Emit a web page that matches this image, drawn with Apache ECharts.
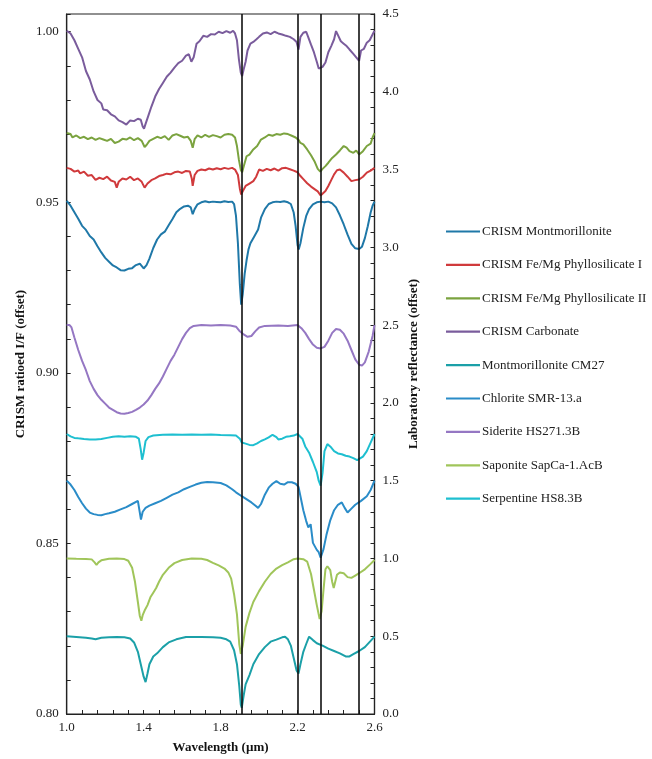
<!DOCTYPE html>
<html>
<head>
<meta charset="utf-8">
<script src="https://cdn.jsdelivr.net/npm/echarts@6/dist/echarts.min.js"></script>
<style>
html,body{margin:0;padding:0;background:#fff;}
#chart{width:652px;height:759px;}
</style>
</head>
<body>
<div id="chart"></div>
<script>
// ---- Axis tick labels ----
const xTicks = [1.0, 1.4, 1.8, 2.2, 2.6];
const leftTicks = [0.80, 0.85, 0.90, 0.95, 1.00];
const rightTicks = [0.0, 0.5, 1.0, 1.5, 2.0, 2.5, 3.0, 3.5, 4.0, 4.5];
const absorptionLines = [1.91, 2.2, 2.32, 2.52];

const seriesNames = [
  'CRISM Montmorillonite', 'CRISM Fe/Mg Phyllosilicate I', 'CRISM Fe/Mg Phyllosilicate II',
  'CRISM Carbonate', 'Montmorillonite CM27', 'Chlorite SMR-13.a', 'Siderite HS271.3B',
  'Saponite SapCa-1.AcB', 'Serpentine HS8.3B'
];

// ---- CRISM spectra (left axis) ----
const cMontWl = [1.00,1.02,1.04,1.06,1.08,1.10,1.12,1.14,1.16,1.18,1.20,1.22,1.24,1.26,1.28,1.30,1.32,1.34,1.36,1.38,1.39,1.40,1.407,1.415,1.43,1.45,1.47,1.49,1.51,1.53,1.55,1.57,1.59,1.61,1.63,1.645,1.655,1.665,1.68,1.70,1.72,1.74,1.76,1.78,1.80,1.82,1.84,1.86,1.87,1.88,1.89,1.90,1.907,1.915,1.925,1.935,1.945,1.955,1.965,1.975,1.985,1.995,2.01,2.03,2.05,2.07,2.09,2.11,2.13,2.15,2.165,2.18,2.19,2.20,2.206,2.215,2.23,2.245,2.26,2.28,2.30,2.32,2.34,2.36,2.38,2.40,2.42,2.44,2.46,2.48,2.50,2.52,2.535,2.55,2.565,2.58,2.59,2.60];
const cMontVal = [0.9504,0.9490,0.9471,0.9452,0.9431,0.9419,0.9401,0.9391,0.9371,0.9353,0.9337,0.9326,0.9315,0.9309,0.9301,0.9300,0.9305,0.9307,0.9316,0.9320,0.9318,0.9306,0.9303,0.9316,0.9335,0.9366,0.9391,0.9406,0.9414,0.9433,0.9451,0.9471,0.9481,0.9488,0.9490,0.9485,0.9465,0.9480,0.9494,0.9500,0.9503,0.9500,0.9502,0.9501,0.9500,0.9503,0.9501,0.9502,0.9495,0.9460,0.9380,0.9260,0.9200,0.9230,0.9290,0.9330,0.9362,0.9380,0.9376,0.9400,0.9405,0.9420,0.9455,0.9480,0.9495,0.9500,0.9502,0.9501,0.9503,0.9500,0.9495,0.9470,0.9430,0.9375,0.9362,0.9380,0.9425,0.9460,0.9480,0.9494,0.9500,0.9502,0.9500,0.9502,0.9497,0.9485,0.9462,0.9435,0.9405,0.9378,0.9365,0.9363,0.9370,0.9395,0.9430,0.9470,0.9490,0.9502];

const cFe1Wl = [1.00,1.02,1.04,1.06,1.07,1.09,1.11,1.13,1.15,1.17,1.19,1.21,1.23,1.25,1.26,1.27,1.29,1.31,1.33,1.35,1.37,1.39,1.405,1.42,1.44,1.46,1.48,1.50,1.52,1.54,1.56,1.58,1.60,1.62,1.64,1.65,1.655,1.665,1.68,1.70,1.72,1.74,1.76,1.78,1.80,1.82,1.84,1.86,1.875,1.89,1.90,1.907,1.915,1.93,1.95,1.97,1.985,2.00,2.02,2.04,2.06,2.08,2.10,2.12,2.14,2.16,2.18,2.20,2.215,2.23,2.25,2.27,2.29,2.305,2.32,2.33,2.345,2.36,2.375,2.39,2.405,2.42,2.44,2.46,2.48,2.50,2.52,2.54,2.56,2.58,2.60];
const cFe1Val = [0.9601,0.9598,0.9590,0.9593,0.9585,0.9590,0.9578,0.9580,0.9566,0.9572,0.9568,0.9575,0.9564,0.9560,0.9543,0.9560,0.9570,0.9567,0.9575,0.9565,0.9570,0.9560,0.9543,0.9555,0.9565,0.9570,0.9577,0.9580,0.9584,0.9582,0.9588,0.9590,0.9586,0.9592,0.9590,0.9570,0.9548,0.9580,0.9592,0.9596,0.9594,0.9599,0.9596,0.9600,0.9597,0.9601,0.9598,0.9601,0.9596,0.9580,0.9540,0.9523,0.9532,0.9548,0.9555,0.9562,0.9575,0.9596,0.9592,0.9598,0.9594,0.9599,0.9593,0.9600,0.9601,0.9597,0.9593,0.9588,0.9577,0.9568,0.9556,0.9546,0.9538,0.9532,0.9520,0.9525,0.9533,0.9548,0.9565,0.9582,0.9594,0.9596,0.9587,0.9575,0.9562,0.9565,0.9567,0.9575,0.9587,0.9593,0.9601];

const cFe2Wl = [1.00,1.02,1.03,1.05,1.07,1.09,1.11,1.13,1.15,1.17,1.19,1.21,1.23,1.25,1.27,1.29,1.31,1.33,1.35,1.37,1.39,1.405,1.415,1.43,1.45,1.47,1.49,1.51,1.53,1.55,1.57,1.59,1.61,1.63,1.645,1.655,1.665,1.68,1.70,1.72,1.74,1.76,1.78,1.80,1.82,1.84,1.86,1.875,1.885,1.895,1.905,1.912,1.92,1.935,1.95,1.97,1.99,2.01,2.03,2.05,2.07,2.09,2.11,2.13,2.15,2.17,2.19,2.205,2.215,2.23,2.25,2.27,2.29,2.305,2.318,2.33,2.345,2.36,2.38,2.40,2.42,2.44,2.455,2.47,2.49,2.505,2.52,2.54,2.56,2.58,2.59,2.60];
const cFe2Val = [0.9703,0.9700,0.9690,0.9696,0.9688,0.9692,0.9685,0.9690,0.9683,0.9688,0.9684,0.9680,0.9686,0.9674,0.9678,0.9686,0.9684,0.9690,0.9682,0.9688,0.9680,0.9662,0.9668,0.9680,0.9686,0.9692,0.9688,0.9694,0.9683,0.9696,0.9700,0.9695,0.9690,0.9692,0.9680,0.9660,0.9685,0.9696,0.9690,0.9698,0.9692,0.9697,0.9694,0.9690,0.9698,0.9700,0.9698,0.9690,0.9665,0.9625,0.9595,0.9588,0.9605,0.9635,0.9640,0.9655,0.9665,0.9684,0.9690,0.9698,0.9695,0.9700,0.9698,0.9702,0.9700,0.9695,0.9690,0.9683,0.9674,0.9670,0.9655,0.9638,0.9618,0.9598,0.9590,0.9598,0.9606,0.9616,0.9630,0.9640,0.9652,0.9665,0.9660,0.9650,0.9645,0.9652,0.9640,0.9650,0.9665,0.9672,0.9690,0.9703];

const cCarbWl = [1.00,1.02,1.04,1.06,1.08,1.10,1.12,1.14,1.16,1.18,1.19,1.21,1.23,1.25,1.27,1.29,1.31,1.33,1.35,1.37,1.385,1.395,1.402,1.41,1.425,1.44,1.46,1.48,1.50,1.52,1.54,1.56,1.58,1.60,1.62,1.635,1.648,1.66,1.675,1.69,1.71,1.73,1.75,1.77,1.79,1.81,1.83,1.85,1.865,1.875,1.885,1.895,1.905,1.912,1.92,1.93,1.94,1.955,1.97,1.985,2.00,2.02,2.04,2.06,2.08,2.10,2.12,2.14,2.16,2.18,2.195,2.205,2.215,2.23,2.245,2.255,2.27,2.285,2.30,2.31,2.32,2.33,2.345,2.36,2.375,2.39,2.40,2.41,2.425,2.44,2.455,2.47,2.49,2.505,2.52,2.53,2.545,2.56,2.575,2.59,2.60];
const cCarbVal = [1.0003,0.9995,0.9975,0.9950,0.9925,0.9885,0.9860,0.9825,0.9800,0.9790,0.9772,0.9770,0.9758,0.9752,0.9740,0.9735,0.9728,0.9740,0.9738,0.9745,0.9742,0.9722,0.9716,0.9730,0.9755,0.9780,0.9810,0.9832,0.9850,0.9868,0.9880,0.9895,0.9908,0.9915,0.9930,0.9934,0.9912,0.9925,0.9965,0.9972,0.9988,0.9985,0.9993,0.9992,1.0000,0.9996,1.0002,0.9997,1.0003,0.9995,0.9975,0.9920,0.9880,0.9870,0.9890,0.9912,0.9945,0.9965,0.9970,0.9977,0.9985,0.9995,0.9998,0.9993,1.0000,0.9995,0.9992,0.9988,0.9985,0.9978,0.9970,0.9948,0.9985,0.9997,1.0000,0.9985,0.9962,0.9940,0.9912,0.9892,0.9888,0.9897,0.9910,0.9940,0.9958,0.9978,1.0002,0.9990,0.9972,0.9965,0.9958,0.9948,0.9935,0.9925,0.9915,0.9945,0.9950,0.9968,0.9975,0.9992,1.0003];

// ---- Laboratory spectra (right axis) ----
const labMontWl = [1.00,1.05,1.10,1.13,1.15,1.18,1.22,1.26,1.30,1.33,1.35,1.37,1.385,1.40,1.41,1.42,1.43,1.45,1.47,1.50,1.53,1.57,1.62,1.70,1.76,1.80,1.83,1.85,1.87,1.885,1.897,1.905,1.91,1.92,1.93,1.95,1.97,2.00,2.03,2.06,2.09,2.12,2.135,2.15,2.165,2.18,2.195,2.205,2.215,2.23,2.245,2.26,2.28,2.30,2.33,2.36,2.39,2.42,2.45,2.47,2.49,2.52,2.55,2.58,2.60];
const labMontVal = [0.50,0.495,0.49,0.485,0.48,0.49,0.493,0.495,0.493,0.485,0.46,0.40,0.32,0.24,0.205,0.26,0.32,0.37,0.39,0.43,0.46,0.48,0.495,0.495,0.493,0.49,0.48,0.465,0.41,0.32,0.18,0.06,0.04,0.12,0.19,0.25,0.32,0.385,0.43,0.465,0.478,0.493,0.497,0.48,0.44,0.36,0.28,0.26,0.32,0.40,0.45,0.497,0.475,0.455,0.44,0.42,0.405,0.39,0.37,0.37,0.385,0.405,0.43,0.47,0.497];

const chlorWl = [1.00,1.02,1.04,1.06,1.08,1.10,1.12,1.14,1.16,1.18,1.20,1.22,1.25,1.28,1.31,1.34,1.37,1.38,1.386,1.395,1.41,1.43,1.46,1.49,1.52,1.55,1.58,1.61,1.64,1.67,1.70,1.73,1.76,1.80,1.83,1.86,1.88,1.91,1.93,1.96,1.98,1.995,2.01,2.03,2.05,2.07,2.09,2.11,2.13,2.15,2.17,2.19,2.205,2.215,2.23,2.245,2.256,2.268,2.28,2.30,2.31,2.32,2.335,2.35,2.37,2.39,2.41,2.43,2.445,2.46,2.48,2.50,2.53,2.56,2.58,2.60];
const chlorVal = [1.50,1.475,1.44,1.395,1.355,1.32,1.295,1.285,1.28,1.278,1.285,1.29,1.30,1.315,1.33,1.35,1.37,1.36,1.25,1.30,1.325,1.34,1.355,1.37,1.39,1.41,1.425,1.445,1.46,1.475,1.487,1.492,1.49,1.485,1.47,1.445,1.425,1.40,1.385,1.36,1.34,1.325,1.35,1.41,1.455,1.48,1.497,1.48,1.475,1.49,1.49,1.48,1.46,1.40,1.31,1.24,1.20,1.22,1.10,1.055,1.04,1.005,1.06,1.15,1.245,1.31,1.345,1.36,1.325,1.295,1.32,1.345,1.37,1.40,1.44,1.50];

const sidWl = [1.00,1.015,1.025,1.04,1.06,1.08,1.10,1.12,1.14,1.16,1.18,1.20,1.22,1.24,1.26,1.28,1.30,1.32,1.34,1.36,1.38,1.40,1.42,1.44,1.46,1.48,1.50,1.52,1.54,1.56,1.58,1.60,1.62,1.64,1.66,1.70,1.75,1.80,1.85,1.88,1.90,1.92,1.94,1.96,1.98,2.00,2.03,2.10,2.15,2.20,2.22,2.24,2.26,2.28,2.30,2.32,2.34,2.36,2.38,2.40,2.42,2.44,2.46,2.48,2.50,2.52,2.535,2.55,2.57,2.59,2.60];
const sidVal = [2.50,2.50,2.485,2.42,2.34,2.27,2.21,2.14,2.09,2.05,2.02,1.995,1.97,1.955,1.94,1.932,1.930,1.935,1.942,1.955,1.97,1.99,2.015,2.05,2.09,2.125,2.17,2.22,2.27,2.31,2.36,2.41,2.45,2.48,2.495,2.50,2.497,2.50,2.497,2.49,2.46,2.44,2.425,2.43,2.46,2.485,2.495,2.497,2.495,2.50,2.48,2.45,2.41,2.375,2.355,2.35,2.36,2.40,2.45,2.475,2.47,2.445,2.40,2.34,2.28,2.245,2.24,2.26,2.33,2.43,2.50];

const sapWl = [1.00,1.05,1.10,1.13,1.145,1.155,1.165,1.18,1.22,1.26,1.30,1.32,1.34,1.355,1.37,1.38,1.388,1.395,1.405,1.42,1.435,1.45,1.465,1.48,1.50,1.53,1.56,1.60,1.65,1.70,1.73,1.76,1.79,1.82,1.84,1.855,1.87,1.885,1.897,1.905,1.915,1.93,1.95,1.97,2.00,2.03,2.06,2.09,2.12,2.15,2.18,2.20,2.23,2.25,2.27,2.285,2.30,2.315,2.325,2.335,2.345,2.355,2.37,2.38,2.388,2.395,2.405,2.42,2.44,2.46,2.48,2.50,2.52,2.55,2.58,2.60];
const sapVal = [1.00,0.998,0.997,0.994,0.975,0.958,0.975,0.988,0.998,1.00,0.996,0.985,0.94,0.85,0.72,0.63,0.60,0.635,0.665,0.70,0.75,0.78,0.81,0.85,0.895,0.94,0.97,0.99,1.00,0.998,0.99,0.972,0.955,0.935,0.91,0.87,0.77,0.64,0.45,0.386,0.44,0.56,0.65,0.72,0.79,0.85,0.90,0.935,0.957,0.975,0.995,1.00,0.995,0.98,0.90,0.80,0.70,0.61,0.66,0.80,0.93,0.95,0.925,0.85,0.81,0.845,0.895,0.91,0.905,0.88,0.875,0.89,0.905,0.93,0.965,0.99];

const serpWl = [1.00,1.02,1.04,1.06,1.09,1.12,1.15,1.18,1.21,1.24,1.27,1.30,1.33,1.36,1.375,1.385,1.392,1.40,1.41,1.425,1.45,1.50,1.55,1.60,1.65,1.70,1.75,1.80,1.85,1.88,1.90,1.91,1.93,1.95,1.97,1.99,2.01,2.03,2.05,2.07,2.09,2.10,2.12,2.14,2.16,2.18,2.20,2.21,2.225,2.24,2.26,2.28,2.30,2.31,2.32,2.33,2.34,2.355,2.37,2.39,2.41,2.43,2.45,2.47,2.49,2.51,2.52,2.54,2.56,2.58,2.60];
const serpVal = [1.80,1.785,1.775,1.772,1.768,1.765,1.765,1.768,1.775,1.782,1.785,1.782,1.785,1.782,1.77,1.70,1.635,1.68,1.755,1.78,1.79,1.795,1.797,1.795,1.797,1.795,1.797,1.793,1.792,1.79,1.77,1.745,1.738,1.73,1.728,1.74,1.755,1.765,1.778,1.795,1.78,1.765,1.77,1.782,1.785,1.79,1.80,1.805,1.77,1.72,1.68,1.62,1.555,1.50,1.468,1.55,1.69,1.735,1.72,1.69,1.675,1.67,1.66,1.655,1.645,1.632,1.628,1.655,1.69,1.745,1.80];

const zip = (xs, ys) => xs.map((x, i) => [x, ys[i]]);

const colors = ['#1f78a8', '#d03a3c', '#7ba33f', '#7a5c9c', '#1ba0a8', '#2a8cc8', '#9577c3', '#a0c55a', '#1ebfd0'];
const datasets = [
  [cMontWl, cMontVal, 0], [cFe1Wl, cFe1Val, 0], [cFe2Wl, cFe2Val, 0], [cCarbWl, cCarbVal, 0],
  [labMontWl, labMontVal, 1], [chlorWl, chlorVal, 1], [sidWl, sidVal, 1], [sapWl, sapVal, 1], [serpWl, serpVal, 1]
];

const font = 'Liberation Serif, Times New Roman, serif';

const series = datasets.map((d, i) => ({
  name: seriesNames[i],
  type: 'line',
  yAxisIndex: d[2],
  data: zip(d[0], d[1]),
  symbol: 'none',
  smooth: false,
  z: 3,
  lineStyle: { color: colors[i], width: 2 },
  itemStyle: { color: colors[i] }
}));

series.push({
  name: 'lines',
  type: 'line',
  data: [],
  z: 2,
  silent: true,
  markLine: {
    silent: true,
    symbol: 'none',
    label: { show: false },
    lineStyle: { color: '#111', width: 1.6, type: 'solid' },
    data: absorptionLines.map(v => ({ xAxis: v }))
  }
});

const chart = echarts.init(document.getElementById('chart'), null, { renderer: 'canvas' });
chart.setOption({
  animation: false,
  backgroundColor: '#fff',
  textStyle: { fontFamily: font },
  grid: { left: 66.7, right: 277.5, top: 14, bottom: 42, show: true, borderColor: '#222', borderWidth: 1.2, containLabel: false },
  legend: {
    orient: 'vertical',
    left: 441,
    top: 220,
    icon: 'rect',
    itemWidth: 34,
    itemHeight: 2.2,
    itemGap: 20.4,
    data: seriesNames,
    textStyle: { fontFamily: font, fontSize: 13, color: '#222', padding: [0, 0, 0, -3] }
  },
  xAxis: {
    type: 'value',
    min: 1.0,
    max: 2.6,
    interval: 0.4,
    name: 'Wavelength (\u00b5m)',
    nameLocation: 'middle',
    nameGap: 27,
    nameTextStyle: { fontFamily: font, fontSize: 13, fontWeight: 'bold', color: '#111' },
    axisLine: { show: true, lineStyle: { color: '#222', width: 1.2 } },
    axisTick: { show: true, inside: true, length: 4, lineStyle: { color: '#222' } },
    minorTick: { show: true, splitNumber: 5, length: 4, lineStyle: { color: '#222' } },
    splitLine: { show: false },
    axisLabel: { fontFamily: font, fontSize: 13, color: '#222', margin: 7, formatter: v => v.toFixed(1) }
  },
  yAxis: [
    {
      type: 'value',
      position: 'left',
      min: 0.8,
      max: 1.0052,
      interval: 0.05,
      name: 'CRISM ratioed I/F (offset)',
      nameLocation: 'middle',
      nameRotate: 90,
      nameGap: 40,
      nameTextStyle: { fontFamily: font, fontSize: 13, fontWeight: 'bold', color: '#111' },
      axisLine: { show: true, lineStyle: { color: '#222', width: 1.2 } },
      axisTick: { show: true, inside: true, length: 4, lineStyle: { color: '#222' } },
      minorTick: { show: true, splitNumber: 5, length: 4, lineStyle: { color: '#222' } },
      splitLine: { show: false },
      axisLabel: {
        fontFamily: font, fontSize: 13, color: '#222', margin: 8, showMaxLabel: false,
        formatter: v => (leftTicks.some(t => Math.abs(t - v) < 1e-6) ? v.toFixed(2) : '')
      }
    },
    {
      type: 'value',
      position: 'right',
      min: 0,
      max: 4.5,
      interval: 0.5,
      name: 'Laboratory reflectance (offset)',
      nameLocation: 'middle',
      nameRotate: 90,
      nameGap: 33,
      nameTextStyle: { fontFamily: font, fontSize: 13, fontWeight: 'bold', color: '#111' },
      axisLine: { show: true, lineStyle: { color: '#222', width: 1.2 } },
      axisTick: { show: true, inside: true, length: 4, lineStyle: { color: '#222' } },
      minorTick: { show: true, splitNumber: 5, length: 4, lineStyle: { color: '#222' } },
      splitLine: { show: false },
      axisLabel: {
        fontFamily: font, fontSize: 13, color: '#222', margin: 8,
        formatter: v => (rightTicks.some(t => Math.abs(t - v) < 1e-6) ? v.toFixed(1) : '')
      }
    }
  ],
  series: series
});
</script>
</body>
</html>
